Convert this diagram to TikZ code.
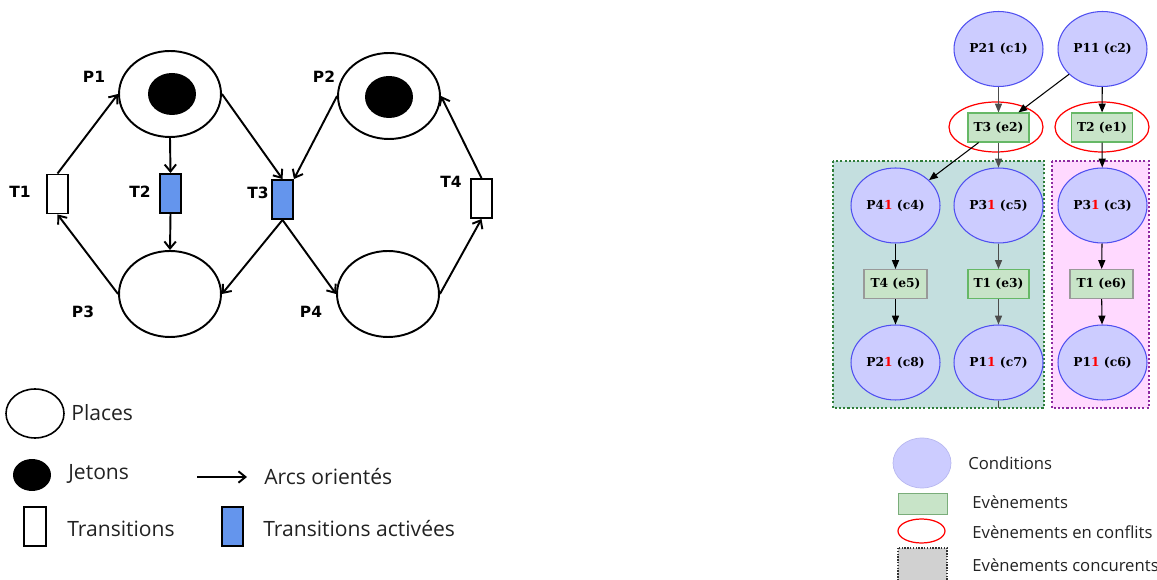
\documentclass[tikz,border=0pt]{standalone}
\usepackage{fontspec}
\setmainfont{Open Sans}
\newfontfamily\lblfont{DejaVu Sans}
\newfontfamily\evfont{DejaVu Serif}
\usetikzlibrary{shapes.geometric,arrows.meta}
\definecolor{actblue}{HTML}{6495ED}
\definecolor{condfill}{HTML}{CCCCFF}
\definecolor{condline}{HTML}{4F4FF0}
\definecolor{evfill}{HTML}{C8E4C8}
\definecolor{evline}{HTML}{66B866}
\definecolor{evgray}{HTML}{999999}
\definecolor{concfill}{HTML}{C4DFDF}
\definecolor{concline}{HTML}{2E7D3A}
\definecolor{pinkfill}{HTML}{FFD9FF}
\definecolor{pinkline}{HTML}{8E2AA0}
\definecolor{legline}{HTML}{B8B8F0}
\definecolor{txtcol}{HTML}{222222}

\begin{document}
\begin{tikzpicture}[x=0.02cm,y=-0.02cm,
place/.style={draw,ellipse,line width=1.1pt,minimum width=2.04cm,minimum height=1.72cm,inner sep=0pt},
token/.style={fill=black,ellipse,minimum width=0.96cm,minimum height=0.84cm,inner sep=0pt},
trans/.style={draw,rectangle,line width=1.1pt,minimum width=0.42cm,minimum height=0.78cm,inner sep=0pt},
active/.style={trans,fill=actblue},
lbl/.style={font=\lblfont\bfseries\fontsize{8.8}{10}\selectfont},
arc/.style={-{Straight Barb[length=4pt,width=6.5pt]},line width=1.1pt},
cond/.style={draw=condline,line width=0.6pt,fill=condfill,ellipse,minimum width=1.78cm,minimum height=1.5cm,inner sep=0pt,
    font=\evfont\bfseries\fontsize{7}{8}\selectfont},
event/.style={draw=evline,line width=0.6pt,fill=evfill,rectangle,minimum width=1.22cm,minimum height=0.58cm,inner sep=0pt,
    font=\evfont\bfseries\fontsize{7}{8}\selectfont},
conflict/.style={draw=red,line width=0.7pt,ellipse,minimum width=1.88cm,minimum height=1.0cm},
flow/.style={-{Triangle[length=5pt,width=4pt]},line width=0.6pt},
gflow/.style={flow,draw=black!70},
legtext/.style={anchor=west,inner sep=0pt,text=txtcol,font=\fontsize{12}{14}\selectfont},
legsmall/.style={anchor=west,inner sep=0pt,text=txtcol,font=\fontsize{9.5}{11}\selectfont}
]
\useasboundingbox (0,0) rectangle (1157,580);

% Petri net
\node (p1) [place] at (170,94) {};
\node (p2) [place] at (389,96) {};
\node (p3) [place] at (170,294) {};
\node (p4) [place] at (388,294) {};
\node (tok1) [token] at (172,94) {};
\node (tok2) [token] at (389,97) {};
\node (t1) [trans] at (57.5,194) {};
\node (t2) [active] at (170.5,193.5) {};
\node (t3) [active] at (282.5,199.5) {};
\node (t4) [trans] at (481.5,198.5) {};

\node (lp1) [lbl] at (94,77) {P1};
\node (lp2) [lbl] at (324,77) {P2};
\node (lp3) [lbl] at (83,312) {P3};
\node (lp4) [lbl] at (311,312) {P4};
\node (lt1) [lbl] at (20,192) {T1};
\node (lt2) [lbl] at (140,192) {T2};
\node (lt3) [lbl] at (258,193) {T3};
\node (lt4) [lbl] at (451,182) {T4};

\draw [arc] (t1.north) -- (p1.west);
\draw [arc] (p1.south) -- (t2.north);
\draw [arc] (t2.south) -- (p3.north);
\draw [arc] (p1.east) -- (t3.north);
\draw [arc] (p2.west) -- (t3.north east);
\draw [arc] (t3.south) -- (p3.east);
\draw [arc] (t3.south) -- (p4.west);
\draw [arc] (p4.east) -- (t4.south);
\draw [arc] (t4.north) -- (p2.east);
\draw [arc] (p3.west) -- (t1.south);

% legend (left)
\node (lgplace) [draw,ellipse,line width=0.9pt,minimum width=1.16cm,minimum height=0.98cm] at (35,413.5) {};
\node (lgplacet) [legtext] at (71,413) {Places};
\node (lgtok) [token,minimum width=0.76cm,minimum height=0.64cm] at (32,475) {};
\node (lgtokt) [legtext] at (68,474) {Jetons};
\coordinate (arcA) at (197,477);
\coordinate (arcB) at (247,477);
\draw [arc] (arcA) -- (arcB);
\node (lgarct) [legtext] at (264,477) {Arcs orientés};
\node (lgtr) [trans,minimum width=0.44cm] at (35,526.5) {};
\node (lgtrt) [legtext] at (67,529) {Transitions};
\node (lgact) [active,minimum width=0.42cm] at (232.5,526.5) {};
\node (lgactt) [legtext] at (263,529) {Transitions activées};

% unfolding
\draw [fill=concfill,draw=concline,line width=1.3pt,dash pattern=on 1.2pt off 1.2pt] (833,161) rectangle (1044,408);
\draw [fill=pinkfill,draw=pinkline,line width=1.3pt,dash pattern=on 1.2pt off 1.2pt] (1052,161) rectangle (1149,408);

\node (c1) [cond] at (998.5,49) {P21 (c1)};
\node (c2) [cond] at (1102.5,49) {P11 (c2)};
\node (x2) [conflict] at (996,127) {};
\node (x1) [conflict] at (1102,127) {};
\node (e2) [event] at (998.5,127.5) {T3 (e2)};
\node (e1) [event] at (1102,127.5) {T2 (e1)};
\node (c4) [cond] at (895.5,205.5) {P4\textcolor{red}{1} (c4)};
\node (c5) [cond] at (998.5,205.5) {P3\textcolor{red}{1} (c5)};
\node (c3) [cond] at (1102.5,205.5) {P3\textcolor{red}{1} (c3)};
\node (e5) [event,draw=evgray,minimum width=1.26cm] at (895.5,284) {T4 (e5)};
\node (e3) [event] at (998.5,284) {T1 (e3)};
\node (e6) [event,draw=evgray,minimum width=1.26cm] at (1101.5,284) {T1 (e6)};
\node (c8) [cond] at (895.5,362.5) {P2\textcolor{red}{1} (c8)};
\node (c7) [cond] at (998.5,362.5) {P1\textcolor{red}{1} (c7)};
\node (c6) [cond] at (1102.5,362.5) {P1\textcolor{red}{1} (c6)};
\coordinate (c7out) at (998.5,408);

\draw [gflow] (c1) -- (e2);
\draw [flow] (c2) -- (e2);
\draw [flow] (c2) -- (e1);
\draw [flow] (e2) -- (c4);
\draw [gflow] (e2) -- (c5);
\draw [flow] (e1) -- (c3);
\draw [flow] (c4) -- (e5);
\draw [gflow] (c5) -- (e3);
\draw [flow] (c3) -- (e6);
\draw [flow] (e5) -- (c8);
\draw [gflow] (e3) -- (c7);
\draw [flow] (e6) -- (c6);
\draw [line width=0.6pt,draw=black!70] (c7) -- (c7out);

% legend (right)
\node (lgcond) [draw=legline,fill=condfill,ellipse,minimum width=1.16cm,minimum height=1.0cm] at (922,463) {};
\node (lgcondt) [legsmall] at (968,463) {Conditions};
\node (lgev) [draw=evgray!80!green,fill=evfill,rectangle,minimum width=0.98cm,minimum height=0.42cm] at (922.5,503.5) {};
\node (lgevt) [legsmall] at (972,502) {Evènements};
\node (lgconf) [draw=red,line width=0.7pt,ellipse,minimum width=0.94cm,minimum height=0.48cm] at (921.5,531) {};
\node (lgconft) [legsmall] at (972,532) {Evènements en conflits};
\draw [fill=black!18,draw=black!80,line width=1pt,dash pattern=on 0.8pt off 0.8pt] (898,548) rectangle (947,583);
\node (lgconct) [legsmall] at (972,565) {Evènements concurents};
\end{tikzpicture}
\end{document}
